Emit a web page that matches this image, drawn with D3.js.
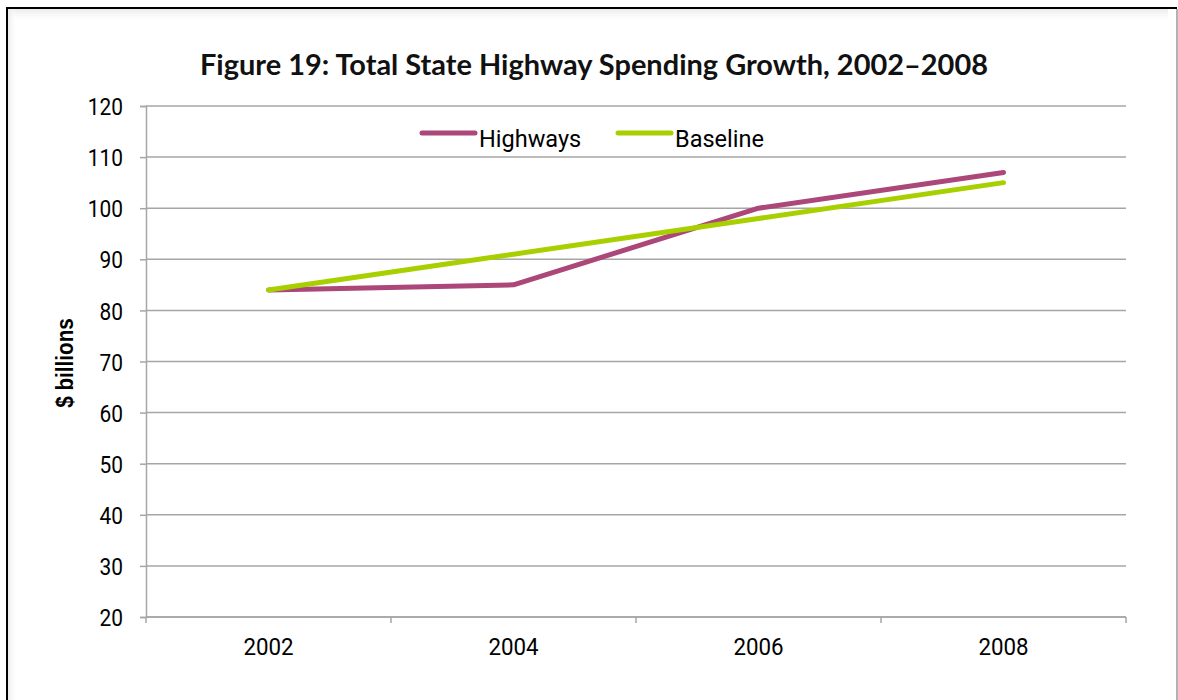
<!DOCTYPE html>
<html>
<head>
<meta charset="utf-8">
<script src="https://cdn.jsdelivr.net/npm/d3@7"></script>
<style>
  html, body { margin: 0; padding: 0; background: #fff; }
  svg { display: block; }
  .tick text { font-family: Roboto, "Liberation Sans", sans-serif; }
</style>
</head>
<body>
<svg id="chart" width="1178" height="700"></svg>
<script>
// Chart data
const years = ["2002", "2004", "2006", "2008"];
const highways = [84, 85, 100, 107];
const baseline = [84, 91, 98, 105];
const seriesNames = ["Highways", "Baseline"];
const seriesColors = ["#ab4779", "#a8d000"];
const yTicks = [20, 30, 40, 50, 60, 70, 80, 90, 100, 110, 120];

const svg = d3.select("#chart");
const W = 1178, H = 700;
const margin = { left: 146, right: 52, top: 106, bottom: 83 };

// Stretch or squeeze a text's glyphs horizontally by a factor
function stretch(sel, factor) {
  sel.each(function () {
    const w = this.getComputedTextLength();
    d3.select(this).attr("textLength", w * factor).attr("lengthAdjust", "spacingAndGlyphs");
  });
}

// Frame with a soft inner shade
const defs = svg.append("defs");
const gTop = defs.append("linearGradient").attr("id", "shadeTop").attr("x1", 0).attr("y1", 0).attr("x2", 0).attr("y2", 1);
gTop.append("stop").attr("offset", 0).attr("stop-color", "#ebebeb");
gTop.append("stop").attr("offset", 1).attr("stop-color", "#ffffff").attr("stop-opacity", 0);
const gLeft = defs.append("linearGradient").attr("id", "shadeLeft").attr("x1", 0).attr("y1", 0).attr("x2", 1).attr("y2", 0);
gLeft.append("stop").attr("offset", 0).attr("stop-color", "#ebebeb");
gLeft.append("stop").attr("offset", 1).attr("stop-color", "#ffffff").attr("stop-opacity", 0);

svg.append("rect").attr("x", 8).attr("y", 9).attr("width", W - 18).attr("height", 14).attr("fill", "url(#shadeTop)");
svg.append("rect").attr("x", 8).attr("y", 9).attr("width", 9).attr("height", H).attr("fill", "url(#shadeLeft)");
svg.append("line").attr("x1", 7).attr("y1", 8).attr("x2", 1177).attr("y2", 8).attr("stroke", "#000").attr("stroke-width", 2);
svg.append("line").attr("x1", 7).attr("y1", 7).attr("x2", 7).attr("y2", H).attr("stroke", "#000").attr("stroke-width", 2);
svg.append("line").attr("x1", 1177).attr("y1", 9).attr("x2", 1177).attr("y2", H).attr("stroke", "#999").attr("stroke-width", 1.5);

// Title
const title = svg.append("text")
  .attr("x", 594).attr("y", 75)
  .attr("text-anchor", "middle")
  .attr("font-family", "Lato, 'Open Sans', sans-serif")
  .attr("font-weight", "bold")
  .attr("font-size", 29)
  .attr("fill", "#111")
  .text("Figure 19: Total State Highway Spending Growth, 2002–2008");
title.attr("textLength", 788).attr("lengthAdjust", "spacingAndGlyphs");

// Scales
const x = d3.scaleBand().domain(years).range([margin.left, W - margin.right]).paddingInner(0).paddingOuter(0);
const y = d3.scaleLinear().domain([20, 120]).range([H - margin.bottom, margin.top]);

// Gridlines
svg.append("g")
  .selectAll("line")
  .data(yTicks)
  .join("line")
  .attr("x1", margin.left).attr("x2", W - margin.right)
  .attr("y1", d => y(d)).attr("y2", d => y(d))
  .attr("stroke", "#a6a6a6").attr("stroke-width", 1.5);

// Y axis
const yAxis = svg.append("g")
  .attr("transform", `translate(${margin.left},0)`)
  .call(d3.axisLeft(y).tickValues(yTicks).tickSize(6).tickPadding(17).tickFormat(d3.format("d")));
yAxis.select(".domain").attr("stroke", "#a6a6a6").attr("stroke-width", 1.5);
yAxis.selectAll(".tick line").attr("stroke", "#a6a6a6").attr("stroke-width", 1.5);
yAxis.selectAll(".tick text").attr("font-size", 24).attr("fill", "#000").attr("dy", "0.36em").call(stretch, 0.87);

// X axis (category boundaries as ticks)
const xAxis = svg.append("g")
  .attr("transform", `translate(0,${H - margin.bottom})`)
  .call(d3.axisBottom(x).tickSize(0).tickPadding(21));
xAxis.select(".domain").remove();
xAxis.selectAll(".tick text").attr("font-size", 24).attr("fill", "#000").call(stretch, 0.93);
svg.append("line")
  .attr("x1", margin.left).attr("x2", W - margin.right)
  .attr("y1", y(20)).attr("y2", y(20))
  .attr("stroke", "#a6a6a6").attr("stroke-width", 1.5);
const boundaries = years.map(d => x(d)).concat([x(years[years.length - 1]) + x.bandwidth()]);
svg.append("g")
  .selectAll("line")
  .data(boundaries)
  .join("line")
  .attr("x1", d => d).attr("x2", d => d)
  .attr("y1", y(20)).attr("y2", y(20) + 6)
  .attr("stroke", "#a6a6a6").attr("stroke-width", 1.5);

// Y axis title
svg.append("text")
  .attr("transform", `translate(73,363) rotate(-90)`)
  .attr("text-anchor", "middle")
  .attr("font-family", "'Liberation Sans', Arial, sans-serif")
  .attr("font-weight", "bold")
  .attr("font-size", 23)
  .attr("fill", "#000")
  .text("$ billions")
  .call(stretch, 0.9);

// Lines
const line = d3.line()
  .x((d, i) => x(years[i]) + x.bandwidth() / 2)
  .y(d => y(d));
const series = [highways, baseline];
svg.append("g")
  .selectAll("path")
  .data(series)
  .join("path")
  .attr("d", d => line(d))
  .attr("fill", "none")
  .attr("stroke", (d, i) => seriesColors[i])
  .attr("stroke-width", 5)
  .attr("stroke-linecap", "round")
  .attr("stroke-linejoin", "round");

// Legend
const legendX = [422, 618];
const legend = svg.append("g")
  .selectAll("g")
  .data(seriesNames)
  .join("g")
  .attr("transform", (d, i) => `translate(${legendX[i]},133)`);
legend.append("line")
  .attr("x1", 0).attr("x2", 53)
  .attr("y1", 0).attr("y2", 0)
  .attr("stroke", (d, i) => seriesColors[i])
  .attr("stroke-width", 5)
  .attr("stroke-linecap", "round");
legend.append("text")
  .attr("x", 57).attr("y", 14)
  .attr("font-family", "Roboto, 'Liberation Sans', sans-serif")
  .attr("font-size", 24)
  .attr("fill", "#000")
  .text(d => d)
  .call(stretch, 0.98);
</script>
</body>
</html>
